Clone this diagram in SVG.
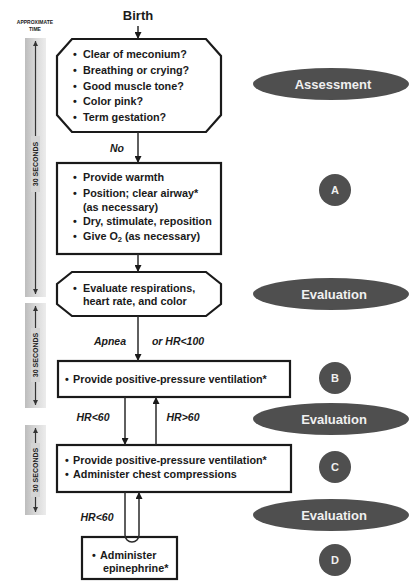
<svg xmlns="http://www.w3.org/2000/svg" width="411" height="581" viewBox="0 0 411 581">
<style>
text{font-family:"Liberation Sans",Arial,sans-serif;fill:#1a1a1a}
.t{font-size:10.8px;font-weight:bold}
.lab{font-size:10.5px;font-weight:bold;font-style:italic;text-anchor:middle}
.box{fill:#fff;stroke:#1a1a1a;stroke-width:2.2}
.con{fill:none;stroke:#2a2a2a;stroke-width:1.5}
.ell{fill:#4f4f4f}
.et{font-size:13px;font-weight:bold;fill:#f0f0f0;text-anchor:middle}
.ct{font-size:11px;font-weight:bold;fill:#f0f0f0;text-anchor:middle}
.bar{fill:url(#g)}
.tl{stroke:#333;stroke-width:1.2}
.vt{font-size:7px;font-weight:bold;text-anchor:middle;fill:#222}
.tiny{font-size:5px;font-weight:bold;text-anchor:middle}
</style>
<defs>
<linearGradient id="g" x1="0" y1="0" x2="1" y2="0">
<stop offset="0" stop-color="#bdbdbd"/><stop offset="0.5" stop-color="#d8d8d8"/><stop offset="1" stop-color="#ececec"/>
</linearGradient>
<marker id="ah" viewBox="0 0 8 8" refX="8" refY="4" markerWidth="7" markerHeight="7" markerUnits="userSpaceOnUse" orient="auto">
<path d="M0,0L8,4L0,8z" fill="#1a1a1a"/>
</marker>
<marker id="sa" viewBox="0 0 8 8" refX="8" refY="4" markerWidth="5" markerHeight="5" markerUnits="userSpaceOnUse" orient="auto-start-reverse">
<path d="M0,0L8,4L0,8z" fill="#333"/>
</marker>
</defs>

<g id="timebar">
<text class="tiny" x="35" y="24">APPROXIMATE</text>
<text class="tiny" x="35" y="31">TIME</text>
<rect class="bar" x="25" y="38" width="21" height="259"/>
<line class="tl" x1="35.5" y1="41" x2="35.5" y2="294" marker-start="url(#sa)" marker-end="url(#sa)"/>
<rect x="31" y="136" width="9" height="56" fill="#d4d4d4"/>
<text class="vt" transform="translate(38,164) rotate(-90)">30 SECONDS</text>
<rect class="bar" x="25" y="303" width="21" height="105"/>
<line class="tl" x1="35.5" y1="306" x2="35.5" y2="405" marker-start="url(#sa)" marker-end="url(#sa)"/>
<rect x="31" y="328" width="9" height="54" fill="#d4d4d4"/>
<text class="vt" transform="translate(38,355) rotate(-90)">30 SECONDS</text>
<rect class="bar" x="25" y="425" width="21" height="90"/>
<line class="tl" x1="35.5" y1="428" x2="35.5" y2="512" marker-start="url(#sa)" marker-end="url(#sa)"/>
<rect x="31" y="443" width="9" height="54" fill="#d4d4d4"/>
<text class="vt" transform="translate(38,470) rotate(-90)">30 SECONDS</text>
</g>

<g id="birth">
<text x="138" y="20" font-size="13" font-weight="bold" text-anchor="middle">Birth</text>
</g>

<g id="assessment-box">
<polygon class="box" points="72,39 206,39 221,56 221,115 206,132 72,132 57,115 57,56"/>
<text class="t" x="73" y="58">•</text><text class="t" x="83" y="58">Clear of meconium?</text>
<text class="t" x="73" y="74">•</text><text class="t" x="83" y="74">Breathing or crying?</text>
<text class="t" x="73" y="90">•</text><text class="t" x="83" y="90">Good muscle tone?</text>
<text class="t" x="73" y="105">•</text><text class="t" x="83" y="105">Color pink?</text>
<text class="t" x="73" y="121">•</text><text class="t" x="83" y="121">Term gestation?</text>
</g>

<g id="box-a">
<rect class="box" x="57" y="163" width="164" height="91"/>
<text class="t" x="73" y="181">•</text><text class="t" x="83" y="181">Provide warmth</text>
<text class="t" x="73" y="197">•</text><text class="t" x="83" y="197">Position; clear airway*</text>
<text class="t" x="83" y="211">(as necessary)</text>
<text class="t" x="73" y="225">•</text><text class="t" x="83" y="225">Dry, stimulate, reposition</text>
<text class="t" x="73" y="240">•</text><text class="t" x="83" y="240">Give O<tspan font-size="7.5" dy="2">2</tspan><tspan dy="-2"> (as necessary)</tspan></text>
</g>

<g id="evaluate-box">
<polygon class="box" points="72,272 206,272 221,284 221,304 206,316 72,316 57,304 57,284"/>
<text class="t" x="73" y="292">•</text><text class="t" x="83" y="292">Evaluate respirations,</text>
<text class="t" x="83" y="305">heart rate, and color</text>
</g>

<g id="box-b">
<rect class="box" x="58" y="361" width="232" height="36"/>
<text class="t" x="65" y="383">•</text><text class="t" x="73" y="383">Provide positive-pressure ventilation*</text>
</g>

<g id="box-c">
<rect class="box" x="57" y="445" width="234" height="47"/>
<text class="t" x="65" y="464">•</text><text class="t" x="73" y="464">Provide positive-pressure ventilation*</text>
<text class="t" x="65" y="478">•</text><text class="t" x="73" y="478">Administer chest compressions</text>
</g>

<g id="box-d">
<rect class="box" x="82" y="537" width="95" height="42"/>
<text class="t" x="92" y="559">•</text><text class="t" x="100" y="559">Administer</text>
<text class="t" x="103" y="572">epinephrine*</text>
</g>

<g id="connectors">
<line class="con" x1="138" y1="26" x2="138" y2="39" marker-end="url(#ah)"/>
<line class="con" x1="138" y1="132" x2="138" y2="163" marker-end="url(#ah)"/>
<line class="con" x1="138" y1="254" x2="138" y2="272" marker-end="url(#ah)"/>
<line class="con" x1="138" y1="316" x2="138" y2="361" marker-end="url(#ah)"/>
<line class="con" x1="125" y1="397" x2="125" y2="445" marker-end="url(#ah)"/>
<line class="con" x1="156" y1="445" x2="156" y2="397" marker-end="url(#ah)"/>
<path class="con" d="M125,492V535A7,7 0 0 0 139,535V492" marker-end="url(#ah)"/>
<text class="lab" x="117" y="152">No</text>
<text class="lab" x="110" y="345">Apnea</text>
<text class="lab" x="178" y="345">or HR&lt;100</text>
<text class="lab" x="93" y="421">HR&lt;60</text>
<text class="lab" x="183" y="421">HR&gt;60</text>
<text class="lab" x="97" y="521">HR&lt;60</text>
</g>

<g id="label-assessment"><ellipse class="ell" cx="331" cy="84" rx="78" ry="16"/><text class="et" x="333" y="89">Assessment</text></g>
<g id="label-a"><circle class="ell" cx="335" cy="190" r="16"/><text class="ct" x="335" y="194">A</text></g>
<g id="label-eval1"><ellipse class="ell" cx="331" cy="294" rx="78" ry="16"/><text class="et" x="334" y="299">Evaluation</text></g>
<g id="label-b"><circle class="ell" cx="335" cy="378" r="16"/><text class="ct" x="335" y="382">B</text></g>
<g id="label-eval2"><ellipse class="ell" cx="331" cy="419" rx="78" ry="16"/><text class="et" x="334" y="424">Evaluation</text></g>
<g id="label-c"><circle class="ell" cx="335" cy="467" r="16"/><text class="ct" x="335" y="471">C</text></g>
<g id="label-eval3"><ellipse class="ell" cx="331" cy="515" rx="78" ry="16"/><text class="et" x="334" y="520">Evaluation</text></g>
<g id="label-d"><circle class="ell" cx="335" cy="560" r="16"/><text class="ct" x="335" y="564">D</text></g>
</svg>
